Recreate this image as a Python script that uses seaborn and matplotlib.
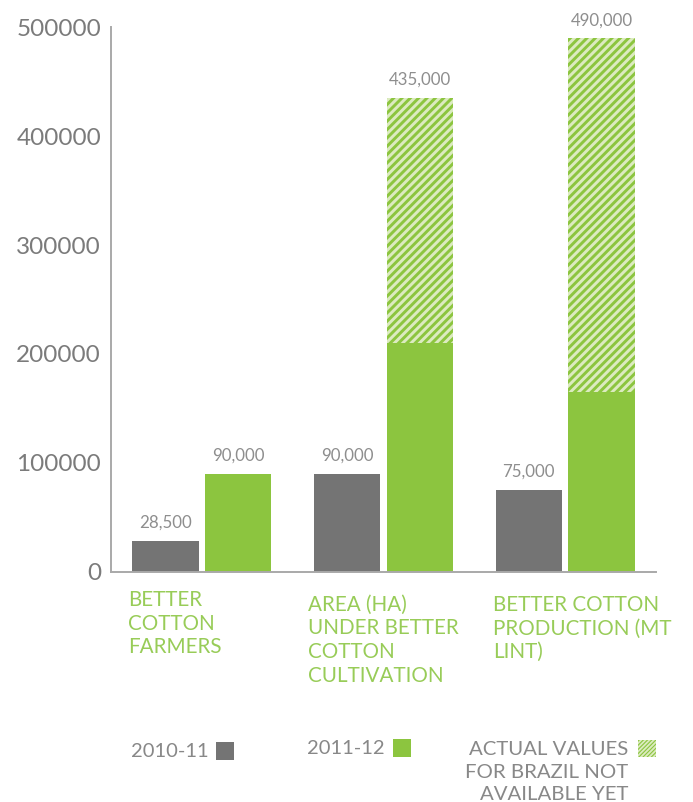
import matplotlib
matplotlib.use("Agg")
import matplotlib.pyplot as plt
from matplotlib.patches import Rectangle
import pandas as pd
import seaborn as sns

# ---- data -------------------------------------------------------------
categories = [
    "BETTER\nCOTTON\nFARMERS",
    "AREA (HA)\nUNDER BETTER\nCOTTON\nCULTIVATION",
    "BETTER COTTON\nPRODUCTION (MT\nLINT)",
]
seasons = ["2010-11", "2011-12"]
values_2010_11 = [28500, 90000, 75000]
values_2011_12 = [90000, 210000, 165000]      # confirmed figures
totals_2011_12 = [90000, 435000, 490000]      # incl. Brazil estimate
note_text = "ACTUAL VALUES\nFOR BRAZIL NOT\nAVAILABLE YET"
y_ticks = [0, 100000, 200000, 300000, 400000, 500000]

# ---- style ------------------------------------------------------------
GREY = "#747474"
GREEN = "#8cc53f"
PALE = "#dcebc0"
AXIS = "#a9a9a9"
TICK_TXT = "#7b7b7b"
VALUE_TXT = "#8e8e8e"
CAT_TXT = "#98cc58"
LEG_TXT = "#888888"

sns.set_style("white")
plt.rcParams["font.family"] = ["Lato", "DejaVu Sans"]
plt.rcParams["hatch.linewidth"] = 2.1

W, H = 693, 802
fig = plt.figure(figsize=(W / 100, H / 100), dpi=100)
ax = fig.add_axes([111 / W, 1 - 571.7 / H, (656 - 111) / W, (571.7 - 27.3) / H])


def new_bars(start):
    """Non-empty bar containers added since index `start`."""
    return [c for c in ax.containers[start:] if len(c)]


# hatched layer: 2011-12 totals including the estimated share
df_total = pd.DataFrame({"category": categories, "season": "2011-12",
                         "value": totals_2011_12})
n0 = len(ax.containers)
sns.barplot(data=df_total, x="category", y="value", hue="season",
            hue_order=seasons, order=categories, dodge=True, saturation=1,
            palette={"2010-11": GREY, "2011-12": PALE},
            width=0.8, gap=0.09, legend=False, ax=ax)
(total_bars,) = new_bars(n0)
for bar in total_bars:
    bar.set_facecolor(PALE)
    bar.set_edgecolor(GREEN)
    bar.set_hatch("////")
    bar.set_linewidth(0)

# solid layer: confirmed values for both seasons
df_solid = pd.DataFrame({
    "category": categories * 2,
    "season": [seasons[0]] * 3 + [seasons[1]] * 3,
    "value": values_2010_11 + values_2011_12,
})
n0 = len(ax.containers)
sns.barplot(data=df_solid, x="category", y="value", hue="season",
            hue_order=seasons, order=categories, dodge=True, saturation=1,
            palette={"2010-11": GREY, "2011-12": GREEN},
            width=0.8, gap=0.09, legend=False, ax=ax, linewidth=0)
bars_2010, bars_2011 = new_bars(n0)

# value labels above the 2010-11 bars and the 2011-12 totals
for container, vals in ((bars_2010, values_2010_11),
                        (total_bars, totals_2011_12)):
    for bar, v in zip(container, vals):
        ax.annotate(f"{v:,}", xy=(bar.get_x() + bar.get_width() / 2, v),
                    xytext=(0, 9.4), textcoords="offset points",
                    ha="center", va="baseline", fontsize=12.2,
                    color=VALUE_TXT)

# axes
ax.set_xlim(-0.5, 2.5)
ax.set_ylim(0, 500000)
ax.set_xticks([0.5, 1.5, 2.5], labels=[])
ax.set_yticks(y_ticks, labels=[str(v) for v in y_ticks])
ax.set_xlabel("")
ax.set_ylabel("")
ax.tick_params(axis="both", direction="in", length=9.4, width=1.1, color=AXIS)
ax.tick_params(axis="y", labelsize=17.5, labelcolor=TICK_TXT, pad=7.2)
for side in ("top", "right"):
    ax.spines[side].set_visible(False)
for side in ("left", "bottom"):
    ax.spines[side].set_color(AXIS)
    ax.spines[side].set_linewidth(1.4)


def text_lines(text, px, py, step, **kw):
    """Place each line of `text` on its own baseline, `step` px apart."""
    for i, line in enumerate(text.split("\n")):
        fig.text(px / W, 1 - (py + i * step) / H, line, va="baseline", **kw)


# category captions under each group
cat_pos = [(128.3, 606.0), (308.3, 610.7), (493.3, 610.7)]
for label, (px, py) in zip(categories, cat_pos):
    text_lines(label, px, py, 23.7, ha="left", fontsize=14.9, color=CAT_TXT)


def fig_box(x0, y0, x1, y1, **kw):
    rect = Rectangle((x0 / W, 1 - y1 / H), (x1 - x0) / W, (y1 - y0) / H,
                     transform=fig.transFigure, **kw)
    fig.add_artist(rect)
    return rect


# legend
fig.text(131 / W, 1 - 757.3 / H, seasons[0], ha="left", va="baseline",
         fontsize=14.5, color=LEG_TXT)
fig_box(216, 742.3, 234, 759.7, facecolor=GREY, linewidth=0)
fig.text(306.7 / W, 1 - 754.3 / H, seasons[1], ha="left", va="baseline",
         fontsize=14.5, color=LEG_TXT)
fig_box(393.3, 739.3, 411, 757, facecolor=GREEN, linewidth=0)
text_lines(note_text, 628, 754.7, 22.9, ha="right", fontsize=14.7,
           color=LEG_TXT)
swatch = fig_box(638, 739.7, 656.3, 757, facecolor=PALE, edgecolor=GREEN,
                 linewidth=0, hatch="////////")
if hasattr(swatch, "set_hatch_linewidth"):
    swatch.set_hatch_linewidth(0.8)

fig.savefig("out.png", dpi=100)
